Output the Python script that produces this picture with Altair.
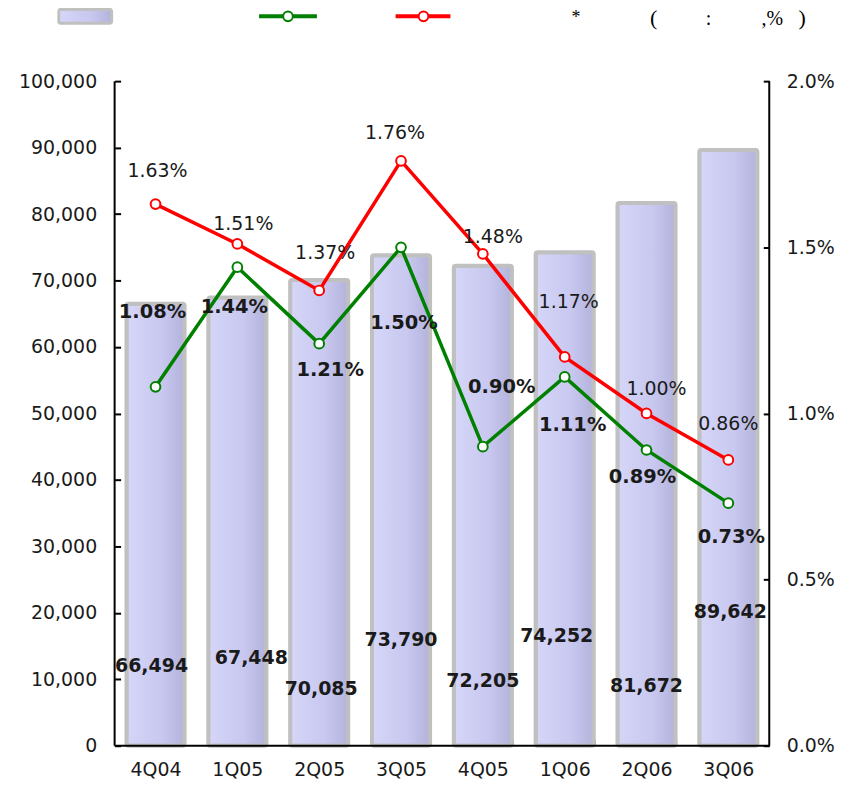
import altair as alt
import pandas as pd

quarters = ["4Q04", "1Q05", "2Q05", "3Q05", "4Q05", "1Q06", "2Q06", "3Q06"]
loans = [66494, 67448, 70085, 73790, 72205, 74252, 81672, 89642]
delinq = [1.08, 1.44, 1.21, 1.50, 0.90, 1.11, 0.89, 0.73]   # green line
npl = [1.63, 1.51, 1.37, 1.76, 1.48, 1.17, 1.00, 0.86]      # red line

# annotation placement (label layout only, pixels relative to the mark)
loan_label_at = [11960, 13150, 8520, 15850, 9720, 16440, 8970, 20180]
loan_label_dx = [-4, 14, 2, 0, 0, -8, 0, 2]
npl_label_dx = [2, 6, 6, -6, 10, 4, 10, 0]
npl_label_dy = [-33, -20, -38, -28, -17, -55, -24, -36]
del_label_dx = [-3, -3, 11, 3, 19, 8, -4, 3]
del_label_dy = [-75, 40, 26, 76, -60, 48, 27, 34]

W, H = 657, 667
TOP = 72
PAD_IN = 0.29
HALF_BAND = W / len(quarters) * (1 - PAD_IN) / 2

df = pd.DataFrame({
    "q": quarters, "loans": loans, "del": delinq, "npl": npl,
    "loan_at": loan_label_at,
    "loan_dx": [d + HALF_BAND for d in loan_label_dx],
    "npl_dx": [d + HALF_BAND for d in npl_label_dx], "npl_dy": npl_label_dy,
    "del_dx": [d + HALF_BAND for d in del_label_dx], "del_dy": del_label_dy,
})

FONT = "DejaVu Sans"
GREEN = "#008000"
RED = "#ff0000"
TXT = "#1a1a1a"

bar_fill = alt.Gradient(
    gradient="linear", x1=0, x2=1, y1=0, y2=0,
    stops=[alt.GradientStop(color="#d6d6f8", offset=0),
           alt.GradientStop(color="#c8c8f0", offset=0.6),
           alt.GradientStop(color="#b2b2da", offset=1)],
)

x = alt.X("q:N", sort=quarters,
          scale=alt.Scale(paddingInner=PAD_IN, paddingOuter=PAD_IN / 2),
          axis=alt.Axis(title=None, labelAngle=0, offset=-6, ticks=True, tickSize=6,
                        tickWidth=2, tickColor="black", domain=False, tickBand="extent",
                        labelFontSize=19, labelFont=FONT, labelColor=TXT, labelPadding=15))

yl_scale = alt.Scale(domain=[0, 100000])
yl_axis = alt.Axis(title=None, values=list(range(0, 100001, 10000)), format=",.0f",
                   offset=-6, ticks=True, tickSize=6, tickWidth=2, tickColor="black",
                   domain=False, grid=False, labelFontSize=19, labelFont=FONT,
                   labelColor=TXT, labelPadding=18)

yr_scale = alt.Scale(domain=[0, 2])
yr_axis = alt.Axis(title=None, orient="right", values=[0, 0.5, 1, 1.5, 2],
                   labelExpr="format(datum.value, '.1f') + '%'",
                   offset=-6, ticks=True, tickSize=6, tickWidth=2, tickColor="black",
                   domain=False, grid=False, labelFontSize=19, labelFont=FONT,
                   labelColor=TXT, labelPadding=17)

base = alt.Chart(df)

bars = base.mark_bar(fill=bar_fill, stroke="#c0c0c0", strokeWidth=4, cornerRadius=2).encode(
    x=x, y=alt.Y("loans:Q", scale=yl_scale, axis=yl_axis))

bar_labels = base.transform_calculate(
    lab="format(datum.loans, ',')"
).mark_text(font=FONT, fontSize=19, fontWeight="bold", color=TXT,
            align="center", baseline="middle").encode(
    x=x, y=alt.Y("loan_at:Q", scale=yl_scale, axis=yl_axis),
    xOffset=alt.XOffset("loan_dx:Q", scale=None),
    text="lab:N")

left_group = alt.layer(bars, bar_labels)

red_line = base.mark_line(color=RED, strokeWidth=3.5).encode(
    x=x, y=alt.Y("npl:Q", scale=yr_scale, axis=yr_axis))
green_line = base.mark_line(color=GREEN, strokeWidth=3.5).encode(
    x=x, y=alt.Y("del:Q", scale=yr_scale, axis=yr_axis))
red_pts = base.mark_point(shape="circle", filled=True, fill="white", stroke=RED,
                          strokeWidth=2, size=95, opacity=1).encode(
    x=x, y=alt.Y("npl:Q", scale=yr_scale, axis=yr_axis))
green_pts = base.mark_point(shape="circle", filled=True, fill="white", stroke=GREEN,
                            strokeWidth=2, size=95, opacity=1).encode(
    x=x, y=alt.Y("del:Q", scale=yr_scale, axis=yr_axis))

red_labels = base.transform_calculate(
    lab="format(datum.npl, '.2f') + '%'",
    lab_y=f"datum.npl - datum.npl_dy * 2 / {H}",
).mark_text(font=FONT, fontSize=19, color=TXT, align="center", baseline="middle").encode(
    x=x, y=alt.Y("lab_y:Q", scale=yr_scale, axis=yr_axis),
    xOffset=alt.XOffset("npl_dx:Q", scale=None),
    text="lab:N")

green_labels = base.transform_calculate(
    lab="format(datum.del, '.2f') + '%'",
    lab_y=f"datum.del - datum.del_dy * 2 / {H}",
).mark_text(font=FONT, fontSize=19.5, fontWeight="bold", color=TXT,
            align="center", baseline="middle").encode(
    x=x, y=alt.Y("lab_y:Q", scale=yr_scale, axis=yr_axis),
    xOffset=alt.XOffset("del_dx:Q", scale=None),
    text="lab:N")

right_group = alt.layer(red_line, green_line, red_pts, green_pts, red_labels, green_labels)

one = alt.Data(values=[{"a": 1}])
deco = alt.Chart(one)

dom_left = deco.mark_rule(color="black", strokeWidth=2).encode(
    x=alt.value(0), y=alt.value(0), y2=alt.value(H))
dom_right = deco.mark_rule(color="black", strokeWidth=2).encode(
    x=alt.value(W), y=alt.value(0), y2=alt.value(H))
dom_bottom = deco.mark_rule(color="black", strokeWidth=2).encode(
    x=alt.value(0), x2=alt.value(W), y=alt.value(H))

OFF = 8 + TOP          # page y of the plot's top edge
LY = 15 - OFF
leg_swatch = deco.mark_rect(fill=bar_fill, stroke="#c0c0c0", strokeWidth=3, cornerRadius=2).encode(
    x=alt.value(-56), x2=alt.value(-3), y=alt.value(LY - 7), y2=alt.value(LY + 7))
leg_g_line = deco.mark_rule(color=GREEN, strokeWidth=4).encode(
    x=alt.value(145), x2=alt.value(203), y=alt.value(LY))
leg_g_pt = deco.mark_point(shape="circle", filled=True, fill="white", stroke=GREEN,
                           strokeWidth=2, size=95, opacity=1).encode(
    x=alt.value(174), y=alt.value(LY))
leg_r_line = deco.mark_rule(color=RED, strokeWidth=4).encode(
    x=alt.value(282), x2=alt.value(337), y=alt.value(LY))
leg_r_pt = deco.mark_point(shape="circle", filled=True, fill="white", stroke=RED,
                           strokeWidth=2, size=95, opacity=1).encode(
    x=alt.value(310), y=alt.value(LY))

SERIF = "Liberation Serif"
def legtext(t, px, py, size=20):
    return deco.mark_text(font=SERIF, fontSize=size, color="black",
                          align="center", baseline="alphabetic").encode(
        x=alt.value(px), y=alt.value(py), text=alt.value(t))

leg_texts = [
    legtext("*", 463, 22 - OFF, 18),
    legtext("(", 541, 24 - OFF, 22),
    legtext(":", 596, 24 - OFF, 20),
    legtext(",%", 660, 24 - OFF, 20),
    legtext(")", 690, 24 - OFF, 22),
]

data_layers = alt.layer(left_group, right_group).resolve_scale(y="independent")

chart = alt.layer(
    data_layers, dom_left, dom_right, dom_bottom,
    leg_swatch, leg_g_line, leg_g_pt, leg_r_line, leg_r_pt, *leg_texts
).properties(
    width=W, height=H,
    autosize=alt.AutoSizeParams(type="none"),
    padding={"left": 107, "top": TOP, "right": 72, "bottom": 34},
    background="white",
).configure_view(stroke=None)

chart.save("out.html", embed_options={"renderer": "svg", "actions": False})
